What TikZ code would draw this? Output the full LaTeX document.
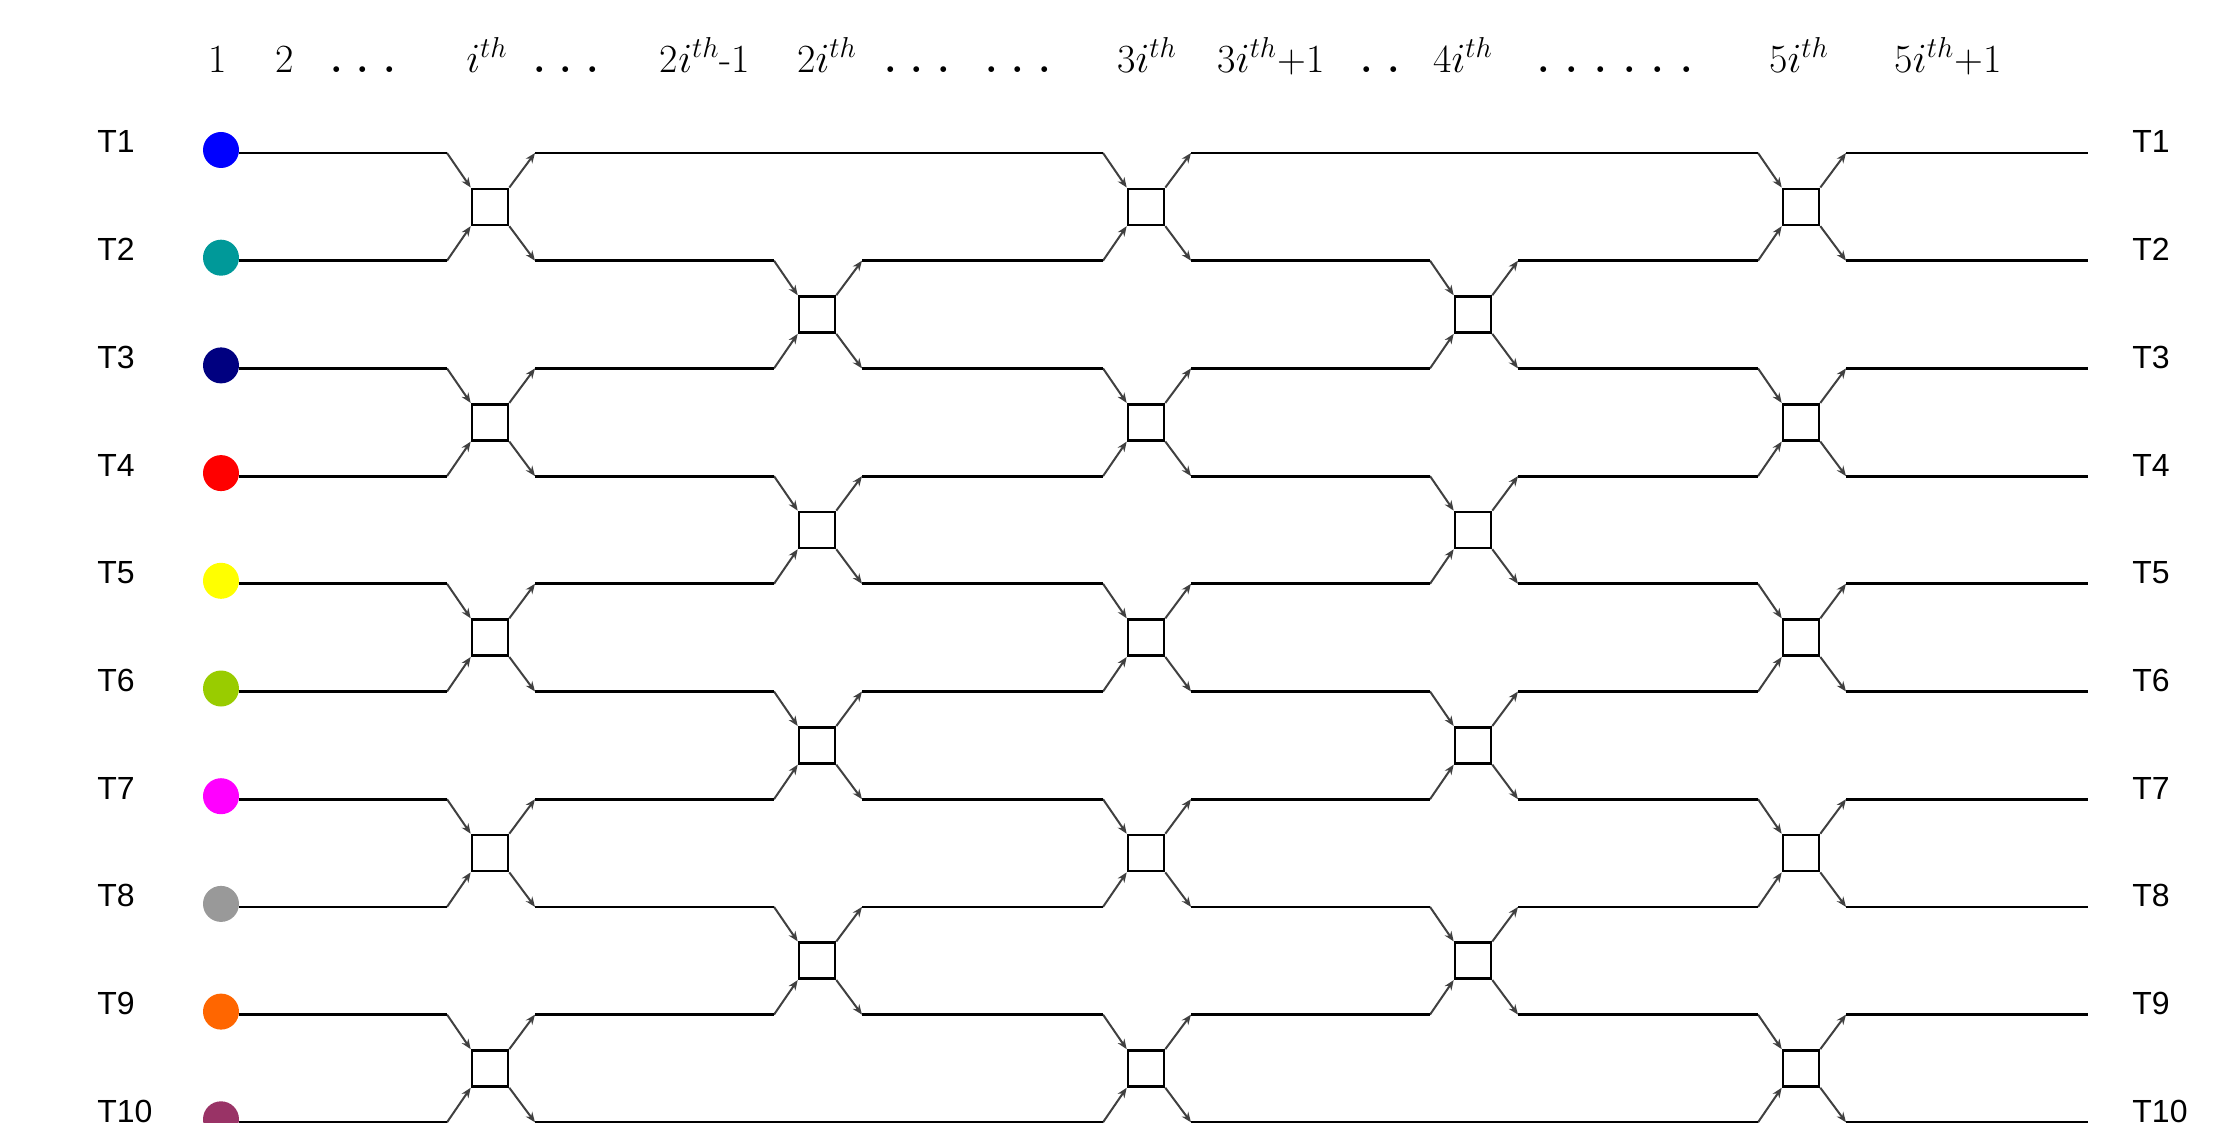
\documentclass[tikz,border=0pt]{standalone}
\usepackage{fontspec}
\newfontfamily\tagfont{Liberation Sans}
\usetikzlibrary{arrows.meta}
\definecolor{tok1}{RGB}{0,0,255}
\definecolor{tok2}{RGB}{0,153,153}
\definecolor{tok3}{RGB}{0,0,128}
\definecolor{tok4}{RGB}{255,0,0}
\definecolor{tok5}{RGB}{255,255,0}
\definecolor{tok6}{RGB}{153,204,0}
\definecolor{tok7}{RGB}{255,0,255}
\definecolor{tok8}{RGB}{153,153,153}
\definecolor{tok9}{RGB}{255,102,0}
\definecolor{tok10}{RGB}{153,51,102}
\newcommand\dotgap{\hspace{7pt}}
\begin{document}
\begin{tikzpicture}[x=0.5pt,y=-0.5pt,
  wire/.style={line width=1.4pt},
  link/.style={line width=1pt,black!75,-{Stealth[length=5pt,width=4pt]}},
  cmp/.style={draw,line width=1.3pt,minimum size=18pt,inner sep=0pt},
  tok/.style={circle,inner sep=0pt,minimum size=18pt},
  tag/.style={font=\tagfont\fontsize{16}{18}\selectfont,anchor=base west,inner sep=0pt},
  head/.style={font=\fontsize{20}{24}\selectfont,anchor=base,inner sep=0pt}]
\useasboundingbox (0,0) rectangle (2240,1123);
% header
\node[head] (h1) at (218,73) {1};
\node[head] (h2) at (285,73) {2};
\node[head] (h3) at (363,73) {\bfseries .\dotgap.\dotgap.};
\node[head] (h4) at (487,73) {$i^{th}$};
\node[head] (h5) at (566,73) {\bfseries .\dotgap.\dotgap.};
\node[head] (h6) at (705,73) {2$i^{th}$-1};
\node[head] (h7) at (827,73) {2$i^{th}$};
\node[head] (h8) at (917,73) {\bfseries .\dotgap.\dotgap.};
\node[head] (h9) at (1018,73) {\bfseries .\dotgap.\dotgap.};
\node[head] (h10) at (1147,73) {3$i^{th}$};
\node[head] (h11) at (1271,73) {3$i^{th}$+1};
\node[head] (h12) at (1380,73) {\bfseries .\dotgap.};
\node[head] (h13) at (1463,73) {4$i^{th}$};
\node[head] (h14) at (1615,73) {\bfseries .\hspace{8pt}.\hspace{8pt}.\hspace{8pt}.\hspace{8pt}.\hspace{8pt}.};
\node[head] (h15) at (1799,73) {5$i^{th}$};
\node[head] (h16) at (1948,73) {5$i^{th}$+1};
% rows
\foreach \r/\c in {1/tok1,2/tok2,3/tok3,4/tok4,5/tok5,6/tok6,7/tok7,8/tok8,9/tok9,10/tok10} {
  \node[tok,fill=\c] (d\r) at (221,{150+(\r-1)*107.7}) {};
  \node[tag] (tl\r) at (97,{153+(\r-1)*107.7}) {T\r};
  \node[tag] (tr\r) at (2132,{153+(\r-1)*107.7}) {T\r};
  \coordinate (E\r) at (2088,{153+(\r-1)*107.7});
  \foreach \k/\x in {1/490,2/817,3/1146,4/1473,5/1801} {
    \coordinate (w\r-\k-in) at ({\x-43},{153+(\r-1)*107.7});
    \coordinate (w\r-\k-out) at ({\x+45},{153+(\r-1)*107.7});
  }
}
% comparators
\foreach \k/\x/\rows in {1/490/{1,3,5,7,9},2/817/{2,4,6,8},3/1146/{1,3,5,7,9},4/1473/{2,4,6,8},5/1801/{1,3,5,7,9}} {
  \foreach \r [evaluate=\r as \s using int(\r+1)] in \rows {
    \node[cmp] (b\k-\r) at (\x,{206.85+(\r-1)*107.7}) {};
    \draw[link] (w\r-\k-in) -- (b\k-\r.north west);
    \draw[link] (w\s-\k-in) -- (b\k-\r.south west);
    \draw[link] (b\k-\r.north east) -- (w\r-\k-out);
    \draw[link] (b\k-\r.south east) -- (w\s-\k-out);
  }
}
% wires
\foreach \r in {1,...,10} {
  \draw[wire] (d\r.east |- w\r-1-in) -- (w\r-1-in);
  \foreach \k [evaluate=\k as \n using int(\k+1)] in {1,...,4}
    \draw[wire] (w\r-\k-out) -- (w\r-\n-in);
  \draw[wire] (w\r-5-out) -- (E\r);
}
\foreach \r in {1,10} \foreach \k in {2,4}
  \draw[wire] (w\r-\k-in) -- (w\r-\k-out);
\end{tikzpicture}
\end{document}
